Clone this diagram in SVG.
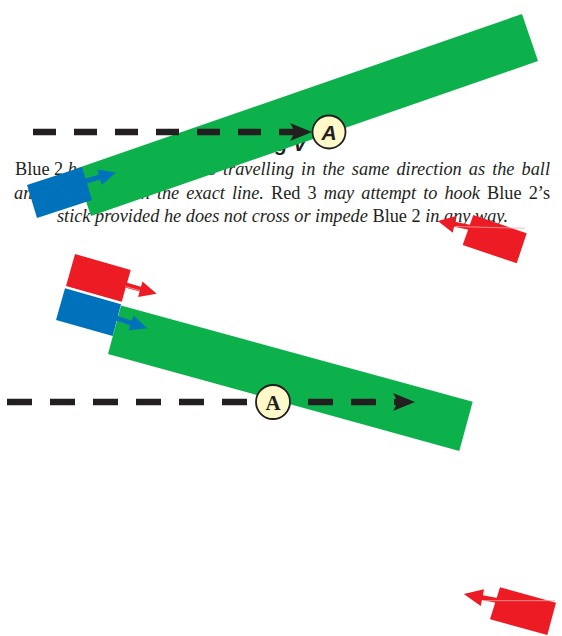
<svg xmlns="http://www.w3.org/2000/svg" width="562" height="636" viewBox="0 0 562 636">
<style>
.txt{font-family:'Liberation Serif','Times New Roman',serif;font-size:18.3px;font-style:italic;fill:#231f20}
.just{word-spacing:2.5px}
.up{font-style:normal}
.head{font-family:'Liberation Sans',Arial,sans-serif;font-size:20px;font-weight:bold;font-style:italic;fill:#231f20}
.green{fill:#0db14b}
.blue{fill:#0072bc}
.red{fill:#ed1c24}
.ball{fill:#fff8c8;stroke:#231f20;stroke-width:1.8}
.dash{fill:none;stroke:#231f20;stroke-width:6.5;stroke-linecap:butt}
.pale{stroke:#f7a8a8;stroke-width:0.8;fill:none}
.la{font-family:'Liberation Sans',Arial,sans-serif;font-size:21px;font-weight:bold;font-style:italic;fill:#231f20}
.lb{font-family:'Liberation Serif','Times New Roman',serif;font-size:21px;font-weight:bold;fill:#231f20}
</style>
<defs>
<marker id="ah" markerUnits="userSpaceOnUse" viewBox="0 -10 23 20" refX="5" refY="0" markerWidth="23" markerHeight="20" orient="auto">
<path d="M0,-9 L22,0 L0,9 L5,0 Z" fill="#231f20"/>
</marker>
</defs>

<g id="caption">
<text class="head" x="282" y="151" text-anchor="middle">Fig V</text>
<text class="txt" x="15" y="175"><tspan class="up">Blue 2</tspan> h</text>
<text class="txt just" x="550" y="175" text-anchor="end">is travelling in the same direction as the ball</text>
<text class="txt" x="14" y="198.5">an</text>
<text class="txt just" x="550" y="198.5" text-anchor="end">on the exact line. <tspan class="up">Red 3</tspan> may attempt to hook <tspan class="up">Blue 2’s</tspan></text>
<text class="txt" x="282.5" y="222" text-anchor="middle">stick provided he does not cross or impede <tspan class="up">Blue 2</tspan> in any way.</text>
</g>

<g id="line-of-ball-top">
<polygon class="green" points="522,14 538,61 91,216 75,169"/>
</g>
<g id="line-of-ball-bottom">
<polygon class="green" points="121,305.5 472.7,401.7 459.3,451 108,354"/>
</g>

<g id="connectors">
<line class="dash" x1="33" y1="132" x2="295" y2="132" stroke-dasharray="23 18" marker-end="url(#ah)"/>
<line class="dash" x1="7" y1="402" x2="398" y2="402" stroke-dasharray="25 18" marker-end="url(#ah)"/>
</g>

<g id="blue2-top">
<path class="blue" transform="translate(86,181) rotate(-15.8)" d="M0,-2.5 L14,-2.5 L14,-8 L31,0 L14,8 L14,2.5 L0,2.5 Z"/>
<polygon class="blue" points="27,185 82,167 92,200 37,218"/>
</g>

<g id="ball-top">
<circle class="ball" cx="329" cy="132" r="16.5"/>
<text class="la" x="329" y="139.5" text-anchor="middle">A</text>
</g>

<g id="red3-top">
<path class="red" transform="translate(478,229) rotate(191.3)" d="M0,-2.5 L24,-2.5 L24,-8.5 L41,0 L24,8.5 L24,2.5 L0,2.5 Z"/>
<polygon class="red" points="473.3,215 526.7,233.3 516.7,263.3 462.7,245"/>
<line class="pale" x1="455" y1="226.5" x2="525" y2="228.3"/>
</g>

<g id="red3-bottom">
<path class="red" transform="translate(122,284) rotate(15.9)" d="M0,-2.5 L19,-2.5 L19,-8 L36,0 L19,8 L19,2.5 L0,2.5 Z"/>
<polygon class="red" points="75,254 130.7,270 121.7,301.7 66,286"/>
<line class="pale" x1="125" y1="286.5" x2="140" y2="290.6"/>
</g>

<g id="blue2-bottom">
<path class="blue" transform="translate(113,317) rotate(18.4)" d="M0,-2.5 L19,-2.5 L19,-8 L36,0 L19,8 L19,2.5 L0,2.5 Z"/>
<polygon class="blue" points="65,288.3 121,304.3 112.7,336 56,320"/>
</g>

<g id="ball-bottom">
<circle class="ball" cx="273" cy="402" r="17"/>
<text class="lb" x="273" y="409.5" text-anchor="middle">A</text>
</g>

<g id="red-bottom-right">
<path class="red" transform="translate(505,602) rotate(191)" d="M0,-2.5 L23,-2.5 L23,-8.5 L42,0 L23,8.5 L23,2.5 L0,2.5 Z"/>
<polygon class="red" points="500,587.3 556,602.7 547.3,635 490,619.3"/>
<line class="pale" x1="483" y1="600.7" x2="555" y2="600.7"/>
</g>
</svg>
